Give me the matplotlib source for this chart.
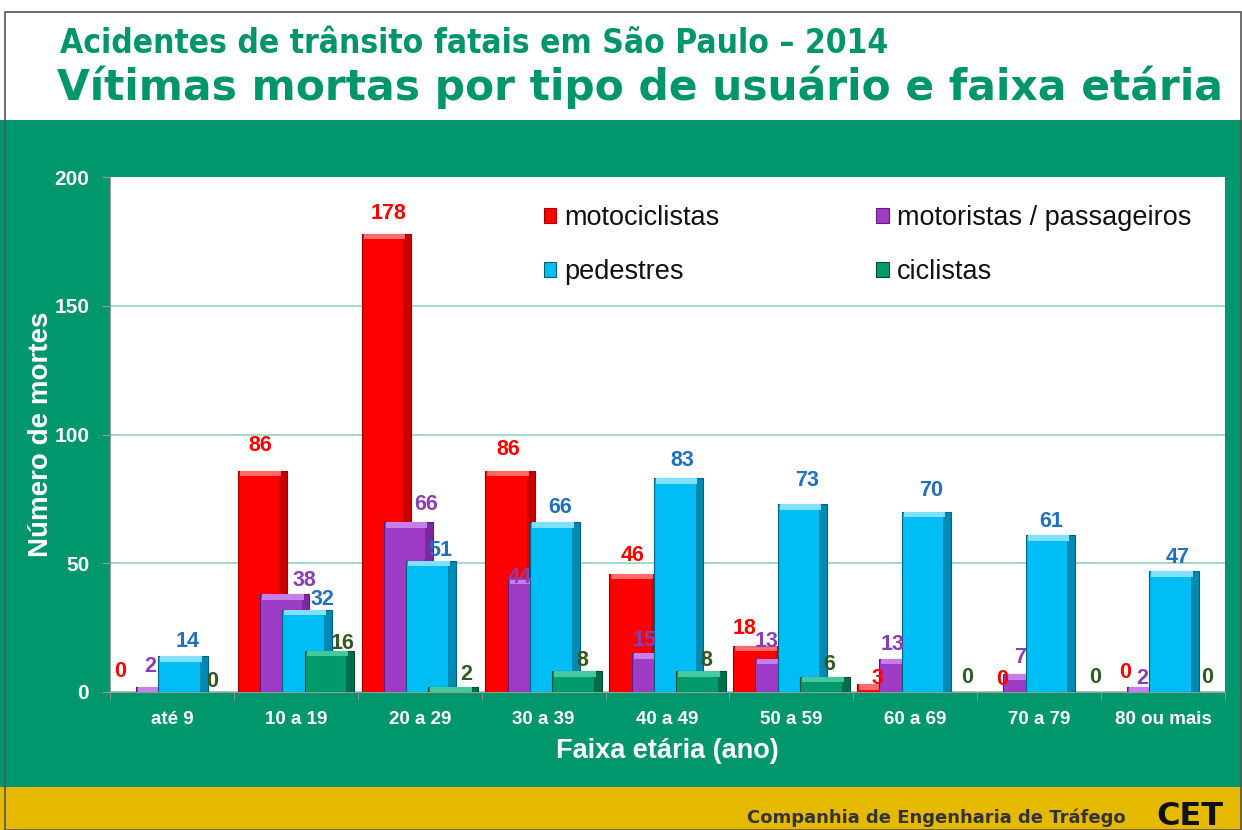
import numpy as np
import matplotlib.pyplot as plt
from matplotlib.patches import Rectangle

plt.rcParams['font.family'] = ['Liberation Sans', 'DejaVu Sans']

# ── Data ──
categories = ['até 9', '10 a 19', '20 a 29', '30 a 39', '40 a 49',
              '50 a 59', '60 a 69', '70 a 79', '80 ou mais']
motociclistas = [0, 86, 178, 86, 46, 18, 3, 0, 0]
motoristas = [2, 38, 66, 44, 15, 13, 13, 7, 2]
pedestres = [14, 32, 51, 66, 83, 73, 70, 61, 47]
ciclistas = [0, 16, 2, 8, 8, 6, 0, 0, 0]
series_names = ['motociclistas', 'motoristas / passageiros', 'pedestres', 'ciclistas']

# ── Style ──
GREEN_BG = '#00976C'
TITLE_GREEN = '#00966A'
YELLOW = '#E5B900'
GRID = '#9ED6C2'
bar_colors = ['#FF0000', '#9E3CC8', '#00BEF5', '#009A6B']
dark_colors = ['#A00000', '#5A1E78', '#00607E', '#004A33']
light_colors = ['#FF6A6A', '#C67FE6', '#80E0FF', '#45C89C']
label_colors = ['#FF0000', '#8A3DB8', '#1F6FC4', '#2F5A22']

# manual label nudges (pixels) – the original labels were hand-placed
label_dx = [[-18, -2, 2, -2, -2, -13, -4, -4, -4],
            [-11, 20, 18, -13, -12, -14, -12, -8, -10],
            [4, 15, 9, 5, 4, 5, 5, 1, 3],
            [7, 13, 13, 5, 5, 4, 18, 23, 11]]
label_dy = [[20, 25, 20, 21, 18, 17, 6, 12, 19],
            [20, 14, 18, 1, 13, 17, 14, 16, 8],
            [14, 10, 10, 15, 18, 24, 21, 13, 13],
            [10, 7, 12, 11, 11, 12, 14, 14, 14]]

fig = plt.figure(figsize=(12.42, 8.30), dpi=100)
fig.patch.set_facecolor('white')

# background bands (behind the axes)
fig.patches.append(Rectangle((0, 0.052), 1, 0.803, transform=fig.transFigure,
                             facecolor=GREEN_BG, edgecolor='none', zorder=-3))
fig.patches.append(Rectangle((0, 0), 1, 0.052, transform=fig.transFigure,
                             facecolor=YELLOW, edgecolor='none', zorder=-3))
fig.patches.append(Rectangle((0.004, 0.0), 0.995, 0.985, transform=fig.transFigure,
                             facecolor='none', edgecolor='#555555', linewidth=1.2,
                             zorder=-2))

# titles
fig.text(0.048, 0.947, 'Acidentes de trânsito fatais em São Paulo – 2014',
         color=TITLE_GREEN, fontsize=24, fontweight='bold', ha='left', va='center',
         family=['DejaVu Sans'], fontstretch='condensed')
fig.text(0.046, 0.895, 'Vítimas mortas por tipo de usuário e faixa etária',
         color=TITLE_GREEN, fontsize=30.5, fontweight='bold', ha='left', va='center',
         family=['DejaVu Sans'])

# footer
fig.text(0.906, 0.015, 'Companhia de Engenharia de Tráfego', color='#333333',
         fontsize=13, fontweight='bold', ha='right', va='center', family=['DejaVu Sans'])
fig.text(0.958, 0.016, 'CET', color='#111111', fontsize=23, fontweight='heavy',
         ha='center', va='center', family=['DejaVu Sans'])

ax = fig.add_axes([0.0886, 0.1663, 0.8977, 0.6204])
ax.set_facecolor('white')

x = np.arange(len(categories))
width = 0.40
step = 0.18
all_series = [motociclistas, motoristas, pedestres, ciclistas]
handles = []

for i, (vals, name) in enumerate(zip(all_series, series_names)):
    pos = x + (i - 1.5) * step
    z = 3 + i
    h = ax.bar(pos, vals, width, color=bar_colors[i], edgecolor=dark_colors[i],
               linewidth=0.8, zorder=z, label=name)
    handles.append(h)
    # bevel: dark right strip and light top strip
    ax.bar(pos + width * 0.42, vals, width * 0.16, color=dark_colors[i],
           alpha=0.55, linewidth=0, zorder=z)
    tops = np.minimum(np.array(vals, dtype=float), 2.2)
    ax.bar(pos - width * 0.04, tops, width * 0.84,
           bottom=np.array(vals) - tops, color=light_colors[i],
           linewidth=0, zorder=z)
    for j, (xp, v) in enumerate(zip(pos, vals)):
        ax.annotate(str(v), (xp, v), xytext=(label_dx[i][j], label_dy[i][j]),
                    textcoords='offset pixels', ha='center', va='center',
                    color=label_colors[i], fontsize=15.5, fontweight='bold', zorder=10)

ax.set_xlim(-0.5, len(categories) - 0.5)
ax.set_ylim(0, 200)
ax.set_yticks([0, 50, 100, 150, 200])
ax.yaxis.grid(True, color=GRID, linewidth=1.3, zorder=1)
ax.get_ygridlines()[-1].set_visible(False)
ax.set_axisbelow(True)
ax.set_xticks(x)
ax.set_xticklabels(categories)
ax.set_xticks(np.arange(-0.5, len(categories)), minor=True)
ax.tick_params(axis='x', which='major', length=0, pad=14, labelsize=13.5,
               labelcolor='white')
ax.tick_params(axis='x', which='minor', length=6, color='#999999')
ax.tick_params(axis='y', length=6, color='#999999', labelsize=15,
               labelcolor='white', pad=9)
for lab in ax.get_xticklabels() + ax.get_yticklabels():
    lab.set_fontweight('bold')
for s in ['top', 'right']:
    ax.spines[s].set_visible(False)
ax.spines['left'].set_color('#999999')
ax.spines['bottom'].set_color('#999999')

ax.set_ylabel('Número de mortes', color='white', fontsize=20, fontweight='bold',
              labelpad=0)
ax.set_xlabel('Faixa etária (ano)', color='white', fontsize=19.5, fontweight='bold',
              labelpad=7)

order = [0, 2, 1, 3]
leg = ax.legend([handles[k] for k in order], [series_names[k] for k in order],
                loc='upper left', bbox_to_anchor=(0.389, 0.945), ncol=2, frameon=False,
                fontsize=19.5, handlelength=0.45, handleheight=0.45, handletextpad=0.3,
                columnspacing=5.8, labelspacing=1.03, borderpad=0, borderaxespad=0)
for t in leg.get_texts():
    t.set_color('#111111')

fig.savefig('out.png', dpi=100, facecolor=fig.get_facecolor())
